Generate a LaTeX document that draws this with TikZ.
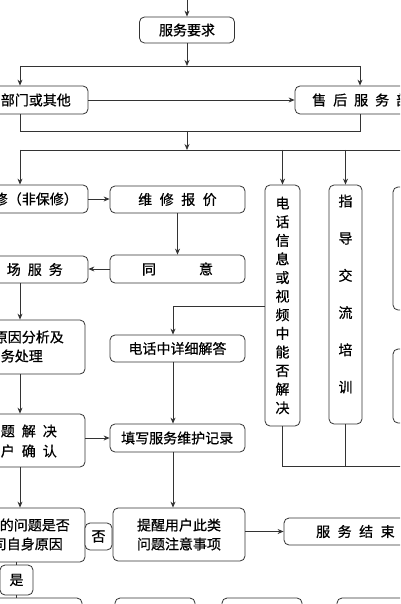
\documentclass[tikz,border=0pt]{standalone}
\usepackage{fontspec}
\newfontfamily\cjk[FakeBold=0.7]{Noto Sans CJK SC}
\usetikzlibrary{arrows.meta}
\begin{document}
\begin{tikzpicture}[x=1pt,y=-1pt,
  box/.style={draw=black!80, line width=0.8pt, rounded corners=5pt, inner sep=0pt, fill=white,
    font=\cjk\fontsize{14}{18}\selectfont, align=center},
  txt/.style={inner sep=0pt, font=\cjk\fontsize{14}{18}\selectfont},
  arr/.style={-{Stealth[length=6pt,width=5pt]}, line width=0.8pt, draw=black!80},
  ln/.style={line width=0.8pt, draw=black!80}]
\useasboundingbox (0,0) rectangle (400,604);
\fill[white] (0,0) rectangle (400,604);
\clip (0,0) rectangle (400,604);

% boxes
\node[box, minimum width=95pt, minimum height=26pt] (req) at (187,30) {服务要求};
\node[box, minimum width=128pt, minimum height=28pt] (other) at (24,100) {};
\node[txt, anchor=east] (otherT) at (71,100) {部门或其他};
\node[box, minimum width=165pt, minimum height=28pt] (after) at (377.5,100) {};
\node[txt, anchor=west] (afterT) at (312,100) {售\hskip7pt后\hskip7pt服\hskip7pt务\hskip7pt部};

\node[box, minimum width=138pt, minimum height=28pt] (rep) at (19,199) {};
\node[txt, anchor=east] (repT) at (78,199) {修（非保修）};
\node[box, minimum width=135pt, minimum height=27pt] (quote) at (177.5,199.5) {维\hskip7.5pt修\hskip7.5pt报\hskip7.5pt价};
\node[box, minimum width=135pt, minimum height=28pt] (agree) at (177.5,269) {同\hskip43pt意};
\node[box, minimum width=138pt, minimum height=27pt] (onsite) at (19,269.5) {};
\node[txt, anchor=east] (onsiteT) at (63,269.5) {场\hskip7pt服\hskip7pt务};

\node[box, minimum width=135pt, minimum height=54pt] (ana) at (17.5,347) {};
\node[txt, anchor=east] (anaT1) at (64,337) {原因分析及};
\node[txt, anchor=east] (anaT2) at (43,356) {务处理};

\node[box, minimum width=135pt, minimum height=53pt] (conf) at (17.5,440.5) {};
\node[txt, anchor=east] (confT1) at (57,431) {题\hskip7pt解\hskip7pt决};
\node[txt, anchor=east] (confT2) at (57,451) {户\hskip7pt确\hskip7pt认};

\node[box, minimum width=135pt, minimum height=27pt] (phone) at (177.5,348.5) {电话中详细解答};
\node[box, minimum width=135pt, minimum height=28pt] (record) at (177.5,438) {};
\node[txt, anchor=west] (recordT) at (121,438) {填写服务维护记录};

\node[box, minimum width=35pt, minimum height=241pt, font=\cjk\fontsize{14}{18.6}\selectfont] (tall1) at (282.5,305.5)
  {电\\话\\信\\息\\或\\视\\频\\中\\能\\否\\解\\决};
\node[box, minimum width=33pt, minimum height=239pt] (tall2) at (345.5,304.5) {};
\node[txt, align=center, font=\cjk\fontsize{14}{37.2}\selectfont] (tall2T) at (345.5,294) {指\\导\\交\\流\\培\\训};

\node[box, minimum width=67pt, minimum height=123pt] (rA) at (426.5,248.5) {};
\node[box, minimum width=67pt, minimum height=74pt] (rB) at (426.5,386) {};

\node[box, minimum width=135pt, minimum height=54pt] (cause) at (17.5,535) {};
\node[txt, anchor=east] (causeT1) at (70,525) {的问题是否};
\node[txt, anchor=east] (causeT2) at (63,544) {司自身原因};
\node[box, minimum width=27pt, minimum height=27pt] (no) at (98.5,536.5) {否};
\node[box, minimum width=132pt, minimum height=53pt, font=\cjk\fontsize{14}{19}\selectfont] (remind) at (179,534.5) {提醒用户此类\\问题注意事项};
\node[box, minimum width=176pt, minimum height=27pt] (end) at (372,531.5) {};
\node[txt, anchor=west] (endT) at (316,531.5) {服\hskip7.5pt务\hskip7.5pt结\hskip7.5pt束};
\node[box, minimum width=33pt, minimum height=30pt] (yes) at (16.5,580) {是};

\node[box, minimum width=132pt, minimum height=32pt] (bot1) at (16,614) {};
\node[box, minimum width=80pt, minimum height=32pt] (bot2) at (155,614) {};
\node[box, minimum width=80pt, minimum height=32pt] (bot3) at (262,614) {};
\node[box, minimum width=123pt, minimum height=32pt] (bot4) at (398.5,614) {};

% connectors
\coordinate (top) at (187,0);
\draw[arr] (top) -- (req.north);
\coordinate (s1) at (187,66);
\coordinate (s1l) at (20,66);
\coordinate (s1r) at (360,66);
\draw[arr] (req.south) -- (s1);
\draw[ln] (s1l) -- (s1r);
\draw[arr] (s1l) -- (s1l |- other.north);
\draw[arr] (s1r) -- (s1r |- after.north);
\draw[arr] (other.east) -- (after.west);

\coordinate (s2l) at (20,131);
\coordinate (s2r) at (360,131);
\coordinate (s2m) at (187,131);
\draw[ln] (s2l |- other.south) -- (s2l) -- (s2r) -- (s2r |- after.south);
\coordinate (s3m) at (187,150);
\coordinate (s3l) at (20,150);
\coordinate (s3r) at (410,150);
\draw[arr] (s2m) -- (s3m);
\draw[ln] (s3l) -- (s3r);
\draw[arr] (s3l) -- (s3l |- rep.north);
\draw[arr] (tall1.north |- s3l) -- (tall1.north);
\draw[arr] (tall2.north |- s3l) -- (tall2.north);

\draw[arr] (rep.east) -- (rep.east -| quote.west);
\draw[arr] (quote.south) -- (agree.north);
\draw[arr] (agree.west) -- (agree.west -| onsite.east);
\draw[arr] (s3l |- onsite.south) -- (s3l |- ana.north);
\draw[arr] (s3l |- ana.south) -- (s3l |- conf.north);
\draw[arr] (s3l |- conf.south) -- (s3l |- cause.north);
\draw[arr] (conf.east |- record.west) -- (record.west);

\coordinate (ph) at (173,306);
\draw[arr] (tall1.west |- ph) -- (ph) -- (ph |- phone.north);
\draw[arr] (ph |- phone.south) -- (ph |- record.north);
\draw[arr] (ph |- record.south) -- (ph |- remind.north);

\coordinate (s4) at (0,466);
\coordinate (s4r) at (410,466);
\draw[ln] (tall1.south) -- (tall1.south |- s4) -- (s4r);
\draw[ln] (tall2.south) -- (tall2.south |- s4);

\draw[arr] (remind.east |- end.west) -- (end.west);
\draw[ln] (yes.north |- cause.south) -- (yes.north);
\draw[ln] (yes.south) -- (yes.south |- bot1.north);
\end{tikzpicture}
\end{document}
